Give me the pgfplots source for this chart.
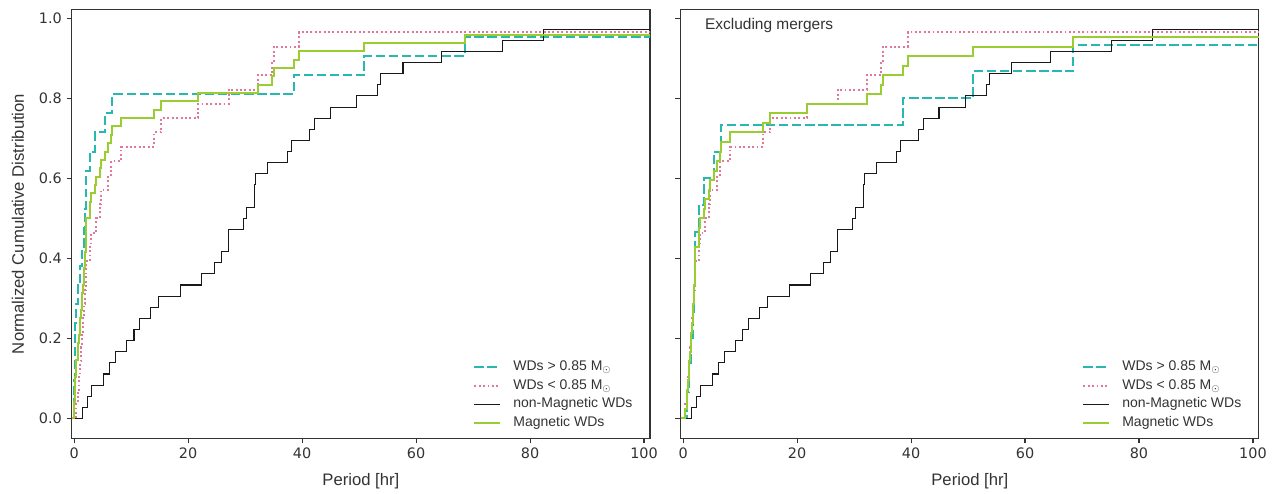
\documentclass[border=0pt]{standalone}
\usepackage{pgfplots}
\usepackage{pgfplotstable}
\pgfplotsset{compat=1.18}
\usepackage{fontspec}
\setmainfont{Liberation Sans}
\newfontfamily\dejavu{DejaVu Sans}
\definecolor{cCyan}{RGB}{40,184,175}
\definecolor{cPink}{RGB}{225,120,155}
\definecolor{cGreen}{RGB}{154,205,50}
\definecolor{cFrame}{RGB}{51,51,51}

% shared series
\pgfplotstableread{
x y
-0.43 0
1.4 .0278
2.3 .0556
3.0 .0833
5.2 .1111
6.2 .1389
7.2 .1667
9.2 .1944
10.5 .2222
11.5 .25
13.4 .2778
14.8 .3056
18.7 .3333
22.4 .3611
24.6 .3889
25.9 .4167
27.1 .4444
27.1 .4722
29.7 .5
30.3 .5278
31.6 .5556
31.6 .5833
31.9 .6111
34.0 .6389
37.5 .6667
38.1 .6944
41.3 .7222
42.2 .75
44.9 .7778
49.5 .8056
53.2 .8333
53.8 .8611
57.7 .8889
64.4 .9167
75.1 .9444
82.3 .9722
110 .9722
}\blacktab

\pgfplotstableread{
x y
-0.43 0
0.3 .0357
0.6 .0714
0.9 .1071
1.1 .1429
1.2 .1786
1.3 .2143
1.5 .25
1.7 .2857
1.9 .3214
2.0 .3571
2.1 .3929
2.8 .4286
3.0 .4643
3.9 .5
4.5 .5357
4.7 .5714
6.0 .6071
6.5 .6429
8.3 .6786
14.0 .7143
15.3 .75
21.8 .7857
27.1 .8214
32.2 .8571
34.7 .8929
35.0 .9286
39.4 .9643
110 .9643
}\pinktab

\pgfplotsset{
  mystyle/.style={
    scale only axis, width=433.7pt, height=321.3pt,
    xmin=-0.43, xmax=101.05, ymin=-0.049, ymax=1.021,
    axis line style={cFrame, line width=0.8pt},
    tick align=outside, xtick pos=bottom, ytick pos=left,
    major tick length=3.9pt,
    every tick/.style={cFrame, line width=0.8pt},
    xtick={0,20,40,60,80,100}, ytick={0,0.2,0.4,0.6,0.8,1.0},
    ticklabel style={font=\dejavu\fontsize{10.8pt}{12pt}\selectfont, text=cFrame},
    /pgf/number format/assume math mode=true,
    yticklabel style={/pgf/number format/.cd, fixed, fixed zerofill, precision=1},
    xticklabel style={/pgf/number format/.cd, fixed, precision=0},
    xlabel={Period [hr]},
    every axis x label/.style={at={(axis description cs:0.5,0)}, yshift=-32.6pt, anchor=center, font=\fontsize{12.5pt}{14pt}\selectfont, text=cFrame},
    legend style={at={(axis description cs:1,0)}, anchor=south east, xshift=-10pt, yshift=3.5pt,
      draw=none, fill=none, font=\fontsize{10.5pt}{12pt}\selectfont, text=cFrame,
      row sep=3pt, nodes={inner sep=0pt, text height=8pt, text depth=3pt, anchor=west},
      /tikz/every odd column/.append style={column sep=9pt}},
    legend cell align=left,
    legend image code/.code={\draw[##1] (0pt,0pt) -- (19.5pt,0pt);},
    const plot,
    cyanline/.style={cCyan, line width=1.5pt, dash pattern=on 7pt off 2.8pt},
    pinkline/.style={cPink, line width=1.5pt, dash pattern=on 1.4pt off 1.9pt},
    blackline/.style={black!90, line width=0.8pt},
    greenline/.style={cGreen, line width=1.5pt},
  }
}

\begin{document}
\begin{tikzpicture}
\useasboundingbox (0,0) rectangle (957pt,369.75pt);

\begin{axis}[mystyle, at={(53.8pt,41.2pt)}, anchor=south west,
  ylabel={Normalized Cumulative Distribution},
  every axis y label/.style={at={(axis description cs:0,0.5)}, xshift=-40.3pt, rotate=90, anchor=center, font=\fontsize{12.5pt}{14pt}\selectfont, text=cFrame}]
\addplot[cyanline] coordinates {(-0.43,0) (0.0,.0476) (0.05,.0952) (0.1,.1429) (0.15,.1905) (0.2,.2381) (0.3,.2857) (0.65,.3333) (1.1,.3810) (1.4,.4286) (1.7,.4762) (1.85,.5238) (2.0,.5714) (2.15,.6190) (2.8,.6667) (3.7,.7143) (5.45,.7619) (6.7,.8095) (38.5,.8571) (50.9,.9048) (68.5,.9524) (110,.9524)};
\addlegendentry{WDs > 0.85 M$_\odot$}
\addplot[pinkline] table[x=x,y=y] {\pinktab};
\addlegendentry{WDs < 0.85 M$_\odot$}
\addplot[blackline] table[x=x,y=y] {\blacktab};
\addlegendentry{non-Magnetic WDs}
\addplot[greenline] coordinates {(-0.43,0) (0.0,.0208) (0.05,.0417) (0.1,.0625) (0.15,.0833) (0.2,.1042) (0.3,.125) (0.3,.1458) (0.6,.1667) (0.65,.1875) (0.9,.2083) (1.1,.2292) (1.1,.25) (1.2,.2708) (1.3,.2917) (1.4,.3125) (1.5,.3333) (1.7,.3542) (1.7,.375) (1.85,.3958) (1.9,.4167) (2.0,.4375) (2.0,.4583) (2.1,.4792) (2.15,.5) (2.8,.5208) (2.8,.5417) (3.0,.5625) (3.7,.5833) (3.9,.6042) (4.5,.625) (4.7,.6458) (5.45,.6667) (6.0,.6875) (6.5,.7083) (6.7,.7292) (8.3,.75) (14.0,.7708) (15.3,.7917) (21.8,.8125) (32.2,.8333) (34.7,.8542) (35.0,.875) (38.5,.8958) (39.4,.9167) (50.9,.9375) (68.5,.9583) (110,.9583)};
\addlegendentry{Magnetic WDs}
\end{axis}

\begin{axis}[mystyle, at={(510.5pt,41.2pt)}, anchor=south west, yticklabels={}]
\addplot[cyanline] coordinates {(-0.43,0) (0.65,.0667) (1.1,.1333) (1.4,.2) (1.7,.2667) (1.85,.3333) (2.0,.4) (2.15,.4667) (2.8,.5333) (3.7,.6) (5.45,.6667) (6.7,.7333) (38.5,.8) (50.9,.8667) (68.5,.9333) (110,.9333)};
\addlegendentry{WDs > 0.85 M$_\odot$}
\addplot[pinkline] table[x=x,y=y] {\pinktab};
\addlegendentry{WDs < 0.85 M$_\odot$}
\addplot[blackline] table[x=x,y=y] {\blacktab};
\addlegendentry{non-Magnetic WDs}
\addplot[greenline] coordinates {(-0.43,0) (0.3,.0238) (0.6,.0476) (0.65,.0714) (0.9,.0952) (1.1,.1190) (1.1,.1429) (1.2,.1667) (1.3,.1905) (1.4,.2143) (1.5,.2381) (1.7,.2619) (1.7,.2857) (1.85,.3095) (1.9,.3333) (2.0,.3571) (2.0,.3810) (2.1,.4048) (2.15,.4286) (2.8,.4524) (2.8,.4762) (3.0,.5) (3.7,.5238) (3.9,.5476) (4.5,.5714) (4.7,.5952) (5.45,.6190) (6.0,.6429) (6.5,.6667) (6.7,.6905) (8.3,.7143) (14.0,.7381) (15.3,.7619) (21.8,.7857) (32.2,.8095) (34.7,.8333) (35.0,.8571) (38.5,.8810) (39.4,.9048) (50.9,.9286) (68.5,.9524) (110,.9524)};
\addlegendentry{Magnetic WDs}
\node[anchor=west, xshift=14.8pt, yshift=-11.6pt, font=\fontsize{11.6pt}{13pt}\selectfont, text=cFrame] at (rel axis cs:0,1) {Excluding mergers};
\end{axis}
\end{tikzpicture}
\end{document}
